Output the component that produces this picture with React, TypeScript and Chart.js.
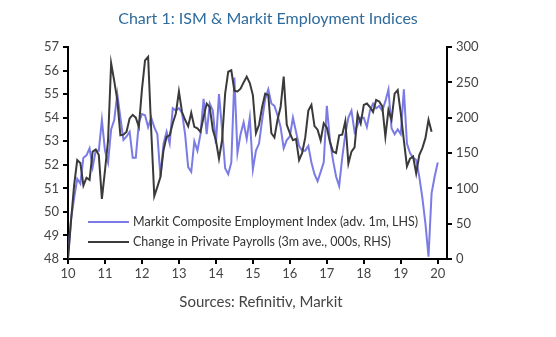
import React, { useEffect, useRef } from "react";
import { Chart, registerables } from "chart.js";

Chart.register(...registerables);

// Monthly data, Jan 2010 onwards (index = months since Jan 2010)
const markit = [
  48.1, 49.7, 50.6, 51.4, 51.2, 52.3, 52.4, 52.7, 51.9, 52.6,
  52.6, 53.9, 52.6, 52.1, 53.5, 53.9, 55.0, 54.0, 53.05, 53.2,
  53.4, 52.3, 52.3, 53.8, 54.15, 54.1, 53.6, 54.0, 53.6, 53.3,
  51.5, 52.9, 53.4, 52.9, 54.4, 54.3, 54.4, 54.2, 53.3, 51.9,
  51.7, 53.0, 52.6, 53.3, 54.8, 53.3, 54.6, 54.3, 52.9, 55.0,
  53.5, 51.85, 51.6, 52.1, 55.7, 52.5, 53.3, 53.8, 53.1, 54.0,
  51.8, 52.6, 52.9, 53.9, 54.8, 55.2, 54.6, 54.5, 54.1, 53.6,
  52.7, 53.05, 53.2, 54.0, 53.4, 52.8, 52.6, 52.6, 52.8, 52.1,
  51.6, 51.3, 51.7, 52.1, 54.5, 53.05, 52.2, 51.5, 51.1, 52.3,
  53.3, 54.0, 54.3, 53.4, 53.7, 54.0, 54.0, 53.6, 54.3, 54.6,
  54.4, 54.5, 54.3, 54.7, 55.2, 53.55, 53.3, 53.5, 53.3, 55.2,
  52.9, 52.5, 52.3, 52.2, 51.5, 50.6, 49.5, 48.1, 50.8, 51.5,
  52.1,
];

const payrolls = [
  0, 55, 105, 140, 136, 104, 115, 112, 152, 155,
  147, 85, 125, 168, 277, 252, 225, 175, 176, 180,
  199, 204, 200, 187, 240, 281, 286, 183, 89, 102,
  116, 154, 173, 175, 192, 206, 237, 208, 197, 188,
  207, 187, 185, 180, 201, 220, 215, 183, 168, 142,
  168, 234, 265, 267, 238, 237, 241, 250, 258, 249,
  232, 178, 190, 215, 234, 232, 178, 172, 197, 215,
  258, 190, 178, 168, 170, 140, 150, 172, 210, 218,
  188, 183, 168, 192, 186, 166, 152, 150, 175, 176,
  195, 135, 152, 158, 205, 192, 218, 220, 215, 208,
  225, 223, 216, 173, 211, 197, 234, 239, 206, 168,
  131, 142, 145, 121, 147, 157, 171, 197, 180,
];

const xTickLabels = ["10", "11", "12", "13", "14", "15", "16", "17", "18", "19", "20"];

const titleText = "Chart 1: ISM & Markit Employment Indices";
const sourceText = "Sources: Refinitiv, Markit";
const legendLabels = [
  "Markit Composite Employment Index (adv. 1m, LHS)",
  "Change in Private Payrolls (3m ave., 000s, RHS)",
];

const PURPLE = "#7b7be6";
const DARK = "#3a3a3a";
const FONT = "Lato, 'Open Sans', sans-serif";

const decorPlugin = {
  id: "decor",
  afterDraw(chart: any) {
    const { ctx, chartArea } = chart;
    ctx.save();
    // Title
    ctx.font = `16px ${FONT}`;
    ctx.fillStyle = "#2f6b9c";
    ctx.textAlign = "center";
    ctx.textBaseline = "alphabetic";
    ctx.fillText(titleText, 268, 24);
    // Sources
    ctx.font = `15px ${FONT}`;
    ctx.fillStyle = "#444";
    ctx.fillText(sourceText, 261, 307);
    // Legend
    const colors = [PURPLE, DARK];
    const x0 = chartArea.left + 20;
    const ys = [chartArea.bottom - 37, chartArea.bottom - 17];
    ctx.font = `12.5px ${FONT}`;
    ctx.textAlign = "left";
    ctx.textBaseline = "middle";
    legendLabels.forEach((lab, i) => {
      ctx.strokeStyle = colors[i];
      ctx.lineWidth = 2;
      ctx.beginPath();
      ctx.moveTo(x0, ys[i]);
      ctx.lineTo(x0 + 41, ys[i]);
      ctx.stroke();
      ctx.fillStyle = "#333";
      ctx.fillText(lab, x0 + 45, ys[i]);
    });
    ctx.restore();
  },
};

export default function App() {
  const ref = useRef<HTMLCanvasElement | null>(null);
  useEffect(() => {
    if (!ref.current) return;
    const tickFont = { family: FONT, size: 13 };
    const chart = new Chart(ref.current, {
      type: "line",
      data: {
        datasets: [
          {
            label: legendLabels[1],
            data: payrolls.map((v, i) => ({ x: i, y: v })),
            borderColor: DARK,
            borderWidth: 2,
            pointRadius: 0,
            yAxisID: "y2",
            order: 0,
          },
          {
            label: legendLabels[0],
            data: markit.map((v, i) => ({ x: i, y: v })),
            borderColor: PURPLE,
            borderWidth: 2,
            pointRadius: 0,
            yAxisID: "y",
            order: 1,
          },
        ],
      },
      options: {
        responsive: false,
        animation: false,
        layout: { padding: { top: 47, bottom: 48, left: 0, right: 0 } },
        plugins: { legend: { display: false }, tooltip: { enabled: false } },
        scales: {
          x: {
            type: "linear",
            min: 0,
            max: 123,
            afterBuildTicks(scale: any) {
              scale.ticks = xTickLabels.map((_, i) => ({ value: i * 12 }));
            },
            afterFit(scale: any) {
              scale.height = 30;
            },
            ticks: {
              autoSkip: false,
              maxRotation: 0,
              padding: 2,
              color: "#444",
              font: tickFont,
              callback: (v: any) => xTickLabels[Math.round(v / 12)],
            },
            grid: { drawOnChartArea: false, drawTicks: true, tickLength: 5, color: "#000", lineWidth: 2 },
            border: { display: true, color: "#000", width: 2 },
          },
          y: {
            position: "left",
            min: 48,
            max: 57,
            afterFit(scale: any) {
              scale.width = 68;
            },
            ticks: { stepSize: 1, padding: 4, color: "#444", font: tickFont },
            grid: { drawOnChartArea: false, drawTicks: true, tickLength: 5, color: "#000", lineWidth: 2 },
            border: { display: true, color: "#000", width: 2 },
          },
          y2: {
            position: "right",
            min: 0,
            max: 300,
            afterFit(scale: any) {
              scale.width = 109;
            },
            ticks: { stepSize: 25, padding: 4, color: "#444", font: tickFont },
            grid: { drawOnChartArea: false, drawTicks: true, tickLength: 5, color: "#000", lineWidth: 2 },
            border: { display: true, color: "#000", width: 2 },
          },
        },
      },
      plugins: [decorPlugin],
    } as any);
    return () => chart.destroy();
  }, []);
  return (
    <div style={{ position: "fixed", left: 0, top: 0, width: 556, height: 337, background: "#fff" }}>
      <canvas ref={ref} width={556} height={337} />
    </div>
  );
}
